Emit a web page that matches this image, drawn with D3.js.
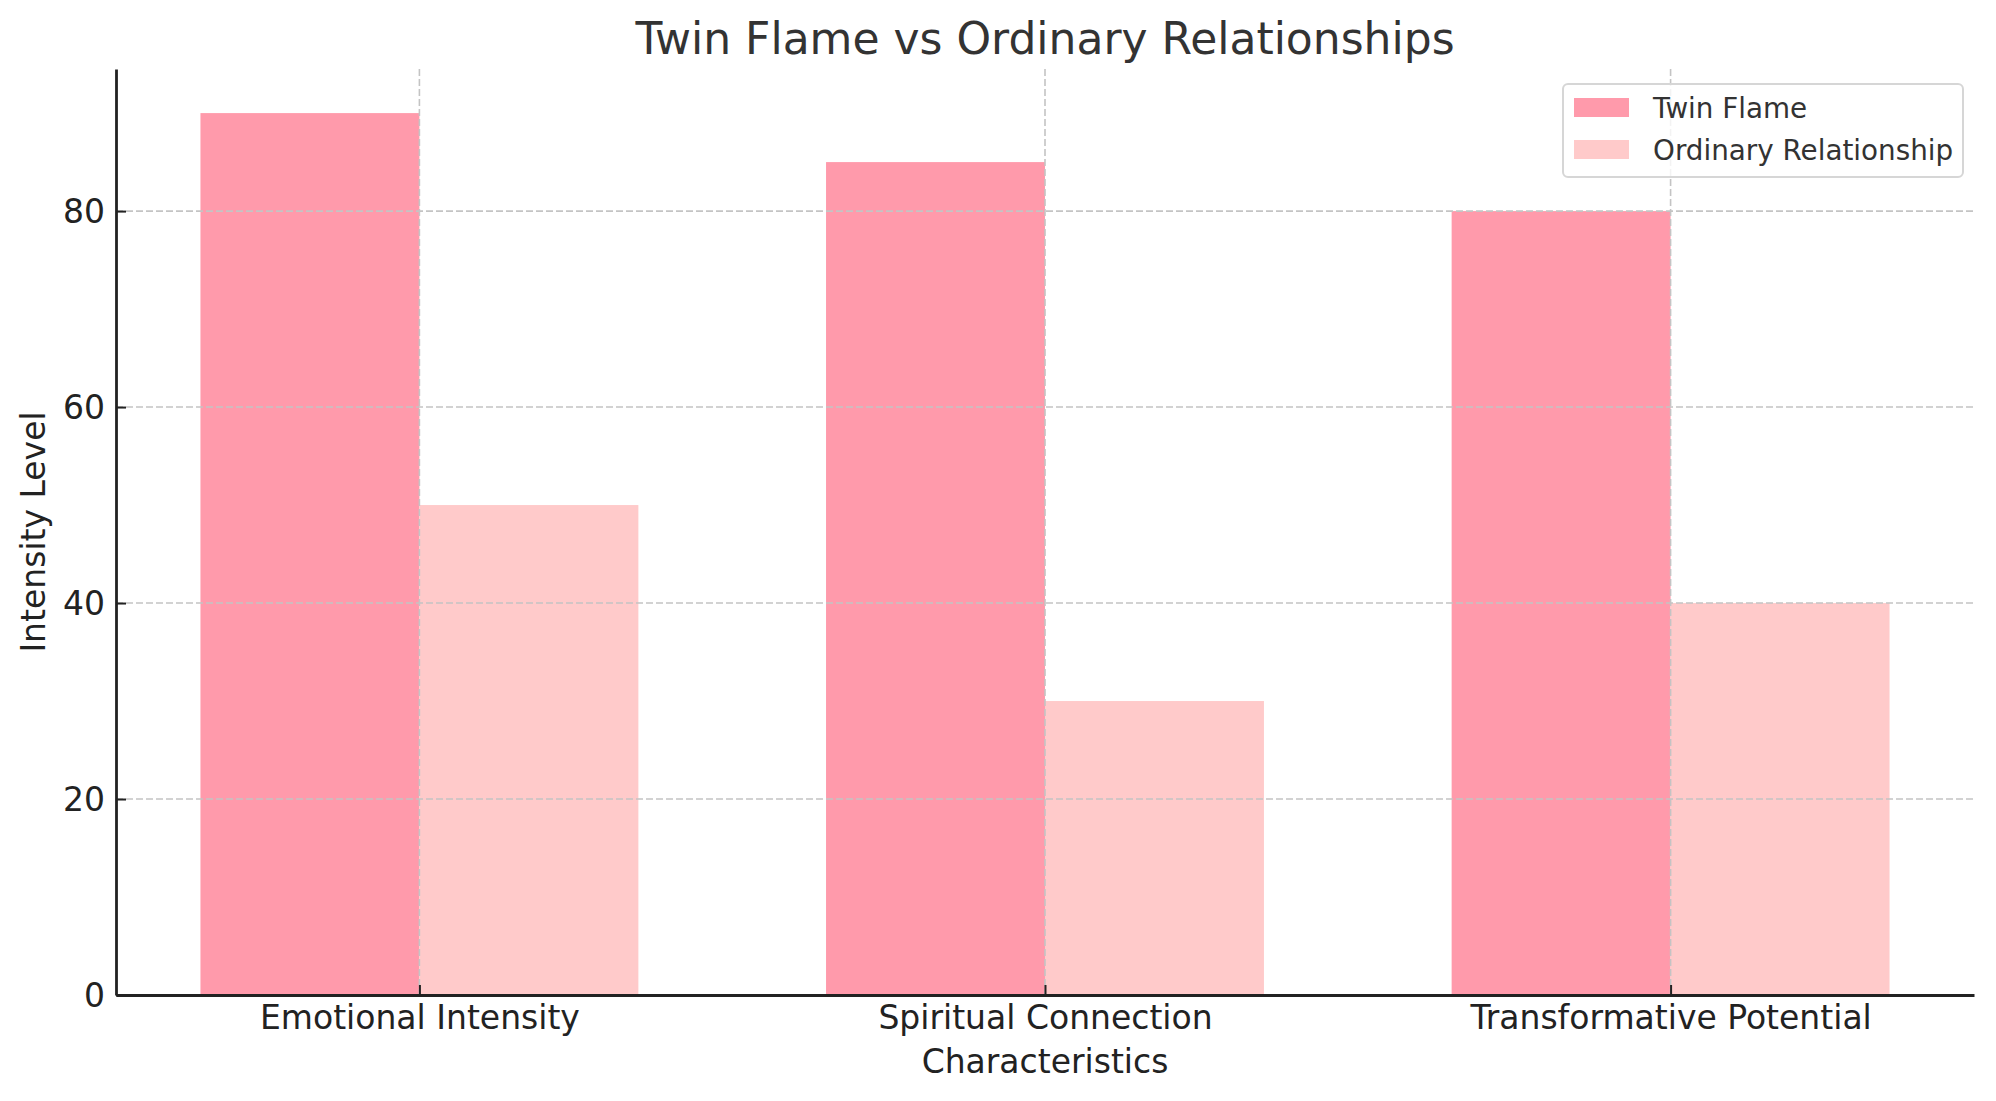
<!DOCTYPE html>
<html>
<head>
<meta charset="utf-8">
<script src="https://cdn.jsdelivr.net/npm/d3@7"></script>
<style>
body { margin: 0; background: #fff; }
text { font-family: "DejaVu Sans", sans-serif; }
</style>
</head>
<body>
<svg width="1996" height="1101"></svg>
<script>
// chart data
let categories = ["Emotional Intensity", "Spiritual Connection", "Transformative Potential"];
let twinFlame = [90, 85, 80];
let ordinary = [50, 30, 40];
let seriesNames = ["Twin Flame", "Ordinary Relationship"];
let yTicks = [0, 20, 40, 60, 80];

let colors = ["#ff9aab", "#ffcaca"];
let barW = 0.35;

let svg = d3.select("svg"),
  margin = {top: 69, right: 22, bottom: 106, left: 116},
  width = +svg.attr("width") - margin.left - margin.right,
  height = +svg.attr("height") - margin.top - margin.bottom;

let g = svg.append("g").attr("transform", "translate(" + margin.left + "," + margin.top + ")");

// category index on a linear scale, like matplotlib with 5% margins
let x = d3.scaleLinear()
  .domain([-barW - 0.135, categories.length - 1 + barW + 0.135])
  .range([0, width]);

let y = d3.scaleLinear()
  .domain([0, d3.max(twinFlame) * 1.05])
  .range([height, 0]);

// bars
let series = [twinFlame, ordinary];
series.forEach(function(vals, s) {
  g.append("g")
    .attr("fill", colors[s])
    .selectAll("rect")
    .data(vals)
    .enter().append("rect")
      .attr("x", function(d, i) { return x(s == 0 ? i - barW : i); })
      .attr("y", function(d) { return y(d); })
      .attr("width", x(barW) - x(0))
      .attr("height", function(d) { return y(0) - y(d); });
});

// grid on top of bars
let grid = g.append("g")
  .attr("stroke", "#c4c4c4")
  .attr("stroke-width", 1.6)
  .attr("stroke-dasharray", "7,3");

grid.selectAll(".hg")
  .data(yTicks.slice(1))
  .enter().append("line")
    .attr("x1", 0).attr("x2", width)
    .attr("y1", function(d) { return y(d); })
    .attr("y2", function(d) { return y(d); });

grid.selectAll(".vg")
  .data(categories)
  .enter().append("line")
    .attr("x1", function(d, i) { return x(i); })
    .attr("x2", function(d, i) { return x(i); })
    .attr("y1", 0).attr("y2", height);

// axes
let xAxis = g.append("g")
  .attr("transform", "translate(0," + height + ")")
  .call(d3.axisBottom(x)
    .tickValues(d3.range(categories.length))
    .tickFormat(function(i) { return categories[i]; })
    .tickSizeInner(-10).tickSizeOuter(0).tickPadding(11));

let yAxis = g.append("g")
  .call(d3.axisLeft(y)
    .tickValues(yTicks)
    .tickSizeInner(-10).tickSizeOuter(0).tickPadding(11));

[xAxis, yAxis].forEach(function(ax) {
  ax.select(".domain").attr("stroke", "#222").attr("stroke-width", 2.8);
  ax.selectAll(".tick line").attr("stroke", "#222").attr("stroke-width", 2);
  ax.selectAll(".tick text")
    .attr("font-family", "DejaVu Sans")
    .attr("font-size", 33)
    .attr("fill", "#222");
});
yAxis.selectAll(".tick text").attr("dy", "0.36em");

// title + axis labels
svg.append("text")
  .attr("x", margin.left + width / 2)
  .attr("y", 54)
  .attr("text-anchor", "middle")
  .attr("font-size", 44)
  .attr("fill", "#333")
  .text("Twin Flame vs Ordinary Relationships");

svg.append("text")
  .attr("x", margin.left + width / 2)
  .attr("y", 1073)
  .attr("text-anchor", "middle")
  .attr("font-size", 33)
  .attr("fill", "#222")
  .text("Characteristics");

svg.append("text")
  .attr("transform", "translate(45," + (margin.top + height / 2) + ") rotate(-90)")
  .attr("text-anchor", "middle")
  .attr("font-size", 33)
  .attr("fill", "#222")
  .text("Intensity Level");

// legend
let legend = svg.append("g").attr("transform", "translate(1563,84)");
legend.append("rect")
  .attr("x", 0).attr("y", 0)
  .attr("width", 400).attr("height", 93)
  .attr("rx", 5)
  .attr("fill", "#fff").attr("fill-opacity", 0.8)
  .attr("stroke", "#d6d6d6").attr("stroke-width", 2);

let item = legend.selectAll(".item")
  .data(seriesNames)
  .enter().append("g")
    .attr("transform", function(d, i) { return "translate(0," + (14 + i * 42) + ")"; });

item.append("rect")
  .attr("x", 11).attr("width", 55).attr("height", 19)
  .attr("fill", function(d, i) { return colors[i]; });

item.append("text")
  .attr("x", 90).attr("y", 10)
  .attr("dy", "0.36em")
  .attr("font-size", 27.8)
  .attr("fill", "#333")
  .text(function(d) { return d; });
</script>
</body>
</html>
